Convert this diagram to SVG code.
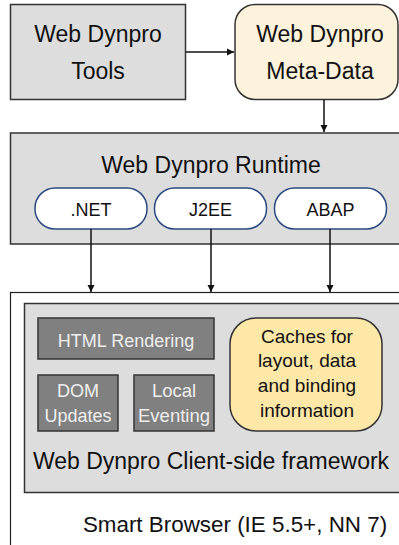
<svg xmlns="http://www.w3.org/2000/svg" width="399" height="545" viewBox="0 0 399 545">
<style>
text{font-family:"Liberation Sans",Arial,sans-serif;fill:#111;text-anchor:middle}
.gray{fill:#dddddd;stroke:#333;stroke-width:1.5}
.dark{fill:#808080;stroke:#333;stroke-width:1.5}
.dt{fill:#eeeeee;font-size:18.5px}
.pill{fill:#fff;stroke:#2b4a80;stroke-width:1.5}
.conn{stroke:#111;stroke-width:1.5;fill:none;marker-end:url(#ah)}
</style>
<defs>
<marker id="ah" markerWidth="8" markerHeight="8" refX="7" refY="4" orient="auto" markerUnits="userSpaceOnUse">
<path d="M0,0.5 L7,4 L0,7.5 Z" fill="#111"/>
</marker>
</defs>
<rect width="399" height="545" fill="#fff"/>
<g id="browser">
<rect x="10.5" y="292.5" width="400" height="270" fill="#fff" stroke="#222" stroke-width="1.2"/>
<text x="235" y="532" style="font-size:22.4px">Smart Browser (IE 5.5+, NN 7)</text>
</g>
<g id="client">
<rect class="gray" x="24.5" y="303.5" width="390" height="189"/>
<text x="211" y="469" style="font-size:23px">Web Dynpro Client-side framework</text>
</g>
<g id="html">
<rect class="dark" x="38" y="318" width="176" height="41"/>
<text class="dt" x="126" y="347" style="font-size:18px">HTML Rendering</text>
</g>
<g id="dom">
<rect class="dark" x="38" y="375" width="80" height="56"/>
<text class="dt" x="78" y="397" style="font-size:18px">DOM</text>
<text class="dt" x="78" y="422" style="font-size:18px">Updates</text>
</g>
<g id="eventing">
<rect class="dark" x="134" y="375" width="80" height="56"/>
<text class="dt" x="174" y="397">Local</text>
<text class="dt" x="174" y="422">Eventing</text>
</g>
<g id="caches">
<rect x="230" y="318" width="152" height="113" rx="26" fill="#fde8a8" stroke="#333" stroke-width="1.5"/>
<text x="307" y="343" style="font-size:19px">Caches for</text>
<text x="307" y="367" style="font-size:19px">layout, data</text>
<text x="307" y="392" style="font-size:19px">and binding</text>
<text x="307" y="417" style="font-size:19px">information</text>
</g>
<g id="tools">
<rect class="gray" x="10.5" y="4.5" width="175" height="95"/>
<text x="98" y="42" style="font-size:23px">Web Dynpro</text>
<text x="98" y="79" style="font-size:23px">Tools</text>
</g>
<g id="metadata">
<rect x="235" y="4.5" width="163" height="95" rx="20" fill="#fdf2dc" stroke="#333" stroke-width="1.5"/>
<text x="320" y="42" style="font-size:23px">Web Dynpro</text>
<text x="320" y="79" style="font-size:23px">Meta-Data</text>
</g>
<g id="runtime">
<rect class="gray" x="10.5" y="133" width="400" height="111"/>
<text x="211" y="173" style="font-size:23px">Web Dynpro Runtime</text>
</g>
<g id="net">
<rect class="pill" x="35" y="188" width="112" height="41" rx="20"/>
<text x="91" y="216" style="font-size:18px">.NET</text>
</g>
<g id="j2ee">
<rect class="pill" x="154.5" y="188" width="112" height="41" rx="20"/>
<text x="210.5" y="216" style="font-size:18px">J2EE</text>
</g>
<g id="abap">
<rect class="pill" x="274.5" y="188" width="112" height="41" rx="20"/>
<text x="330.5" y="216" style="font-size:18px">ABAP</text>
</g>
<g id="connectors">
<line class="conn" x1="186" y1="52" x2="234" y2="52"/>
<line class="conn" x1="324" y1="100" x2="324" y2="132"/>
<line class="conn" x1="91" y1="229" x2="91" y2="292"/>
<line class="conn" x1="211" y1="229" x2="211" y2="292"/>
<line class="conn" x1="330" y1="229" x2="330" y2="292"/>
</g>
</svg>
